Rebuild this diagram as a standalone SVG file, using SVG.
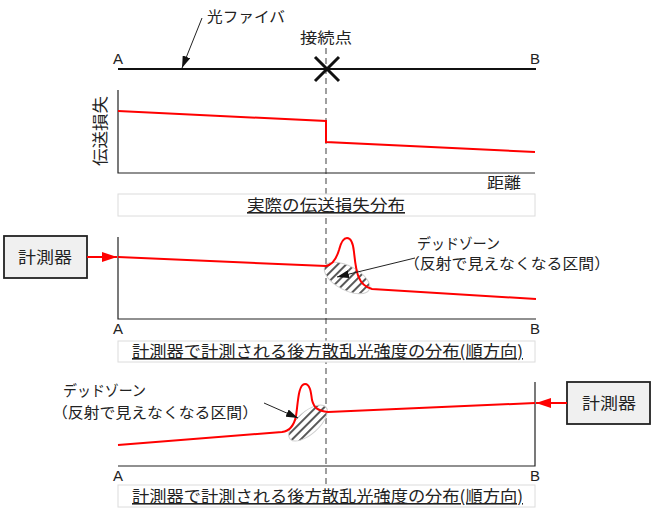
<svg xmlns="http://www.w3.org/2000/svg" width="655" height="511" viewBox="0 0 655 511">
<defs>
<style>
text{font-family:"Noto Sans CJK JP","Liberation Sans",sans-serif;fill:#222}
.t15{font-size:15px}
.t16{font-size:16px}
.lat{font-family:"Liberation Sans",sans-serif;font-size:15px}
.ax{stroke:#222;stroke-width:1.2;fill:none}
.red{stroke:#ff0000;stroke-width:2;fill:none}
.lbl{fill:#fff;stroke:#dcdcdc;stroke-width:1}
.box{fill:#f0f0f0;stroke:#222;stroke-width:1.8}
.lead{stroke:#222;stroke-width:1;fill:none}
.hz{stroke:#d0d0d0;stroke-width:1}
</style>
<pattern id="hatch2" patternUnits="userSpaceOnUse" width="6" height="6" patternTransform="rotate(17)">
<rect width="6" height="6" fill="#fff"/>
<line x1="1" y1="0" x2="1" y2="6" stroke="#000" stroke-width="1.3"/>
</pattern>
<pattern id="hatch3" patternUnits="userSpaceOnUse" width="6" height="6" patternTransform="rotate(87)">
<rect width="6" height="6" fill="#fff"/>
<line x1="1" y1="0" x2="1" y2="6" stroke="#000" stroke-width="1.3"/>
</pattern>
<marker id="ab" viewBox="0 0 12 8" refX="12" refY="4" markerWidth="12" markerHeight="8" markerUnits="userSpaceOnUse" orient="auto">
<path d="M0,0 L12,4 L0,8 Z" fill="#111"/>
</marker>
<marker id="ar" viewBox="0 0 15 10" refX="15" refY="5" markerWidth="15" markerHeight="10" markerUnits="userSpaceOnUse" orient="auto">
<path d="M0,0 L15,5 L0,10 Z" fill="#ff0000"/>
</marker>
</defs>
<rect width="655" height="511" fill="#fff"/>

<!-- dashed connection-point line -->
<line x1="326" y1="48" x2="326" y2="485" stroke="#808080" stroke-width="1.5" stroke-dasharray="6,4"/>

<g id="fiber">
<line x1="118" y1="69" x2="536" y2="69" stroke="#111" stroke-width="2"/>
<text class="lat" x="113" y="64">A</text>
<text class="lat" x="530" y="64">B</text>
<path d="M315,57 L339,81 M339,57 L315,81" stroke="#111" stroke-width="3" fill="none"/>
<text class="t15" x="207" y="22" textLength="78" lengthAdjust="spacingAndGlyphs">光ファイバ</text>
<text class="t15" x="300" y="43" textLength="52" lengthAdjust="spacingAndGlyphs">接続点</text>
</g>

<g id="graph1">
<polyline class="ax" points="118,90 118,173 535,173"/>
<path class="red" d="M118,111 L326,121 L326,142 L535,152"/>
<text class="t16" transform="translate(106,131) rotate(-90)" text-anchor="middle" textLength="70" lengthAdjust="spacingAndGlyphs">伝送損失</text>
<text class="t15" x="487" y="188" textLength="34" lengthAdjust="spacingAndGlyphs">距離</text>
</g>

<g id="label1">
<rect class="lbl" x="118" y="194" width="417" height="22"/>
<text class="t16" x="247" y="211" textLength="158" lengthAdjust="spacingAndGlyphs" text-decoration="underline">実際の伝送損失分布</text>
</g>

<g id="meter1">
<rect class="box" x="4" y="236" width="83" height="42"/>
<text class="t16" x="18" y="263" textLength="54" lengthAdjust="spacingAndGlyphs">計測器</text>
</g>

<g id="graph2">
<ellipse class="hz" fill="url(#hatch2)" cx="347" cy="278" rx="25" ry="12" transform="rotate(28 347 278)"/>
<polyline class="ax" points="118,237 118,319 536,319"/>
<path class="red" d="M118,257 L326,266 C332,265 336,260 339,250 C341,242 343,238 347,238 C351,238 353,242 354,252 C356,270 357,285 372,289 L536,299"/>
<text class="lat" x="113" y="334">A</text>
<text class="lat" x="530" y="334">B</text>
<text class="t15" x="417" y="249" textLength="83" lengthAdjust="spacingAndGlyphs">デッドゾーン</text>
<text class="t15" x="404" y="269" textLength="206" lengthAdjust="spacingAndGlyphs">（反射で見えなくなる区間）</text>
</g>

<g id="label2">
<rect class="lbl" x="118" y="341" width="417" height="21"/>
<text class="t16" x="132" y="357" textLength="391" lengthAdjust="spacingAndGlyphs" text-decoration="underline">計測器で計測される後方散乱光強度の分布(順方向)</text>
</g>

<g id="meter2">
<rect class="box" x="567" y="382" width="83" height="42"/>
<text class="t16" x="582" y="409" textLength="54" lengthAdjust="spacingAndGlyphs">計測器</text>
</g>

<g id="graph3">
<ellipse class="hz" fill="url(#hatch3)" cx="308" cy="423" rx="24" ry="11" transform="rotate(-42 308 423)"/>
<polyline class="ax" points="535,382 535,466 118,466"/>
<path class="red" d="M118,445 L282,432 C290,431 294,426 296,416 C298,404 298,384 305,384 C310,384 311,392 312,400 C314,408 318,411 328,412 L535,403"/>
<text class="lat" x="113" y="481">A</text>
<text class="lat" x="530" y="481">B</text>
<text class="t15" x="63" y="396" textLength="83" lengthAdjust="spacingAndGlyphs">デッドゾーン</text>
<text class="t15" x="52" y="418" textLength="206" lengthAdjust="spacingAndGlyphs">（反射で見えなくなる区間）</text>
</g>

<g id="label3">
<rect class="lbl" x="118" y="485" width="417" height="22"/>
<text class="t16" x="132" y="502" textLength="391" lengthAdjust="spacingAndGlyphs" text-decoration="underline">計測器で計測される後方散乱光強度の分布(順方向)</text>
</g>

<g id="connectors">
<line class="lead" x1="202" y1="18" x2="182" y2="68" marker-end="url(#ab)"/>
<line class="lead" x1="415" y1="258" x2="337" y2="277" marker-end="url(#ab)"/>
<line class="lead" x1="264" y1="403" x2="298" y2="418" marker-end="url(#ab)"/>
<line stroke="#ff0000" stroke-width="2" x1="87" y1="257" x2="117" y2="257" marker-end="url(#ar)"/>
<line stroke="#ff0000" stroke-width="2" x1="567" y1="403" x2="536" y2="403" marker-end="url(#ar)"/>
</g>
</svg>
